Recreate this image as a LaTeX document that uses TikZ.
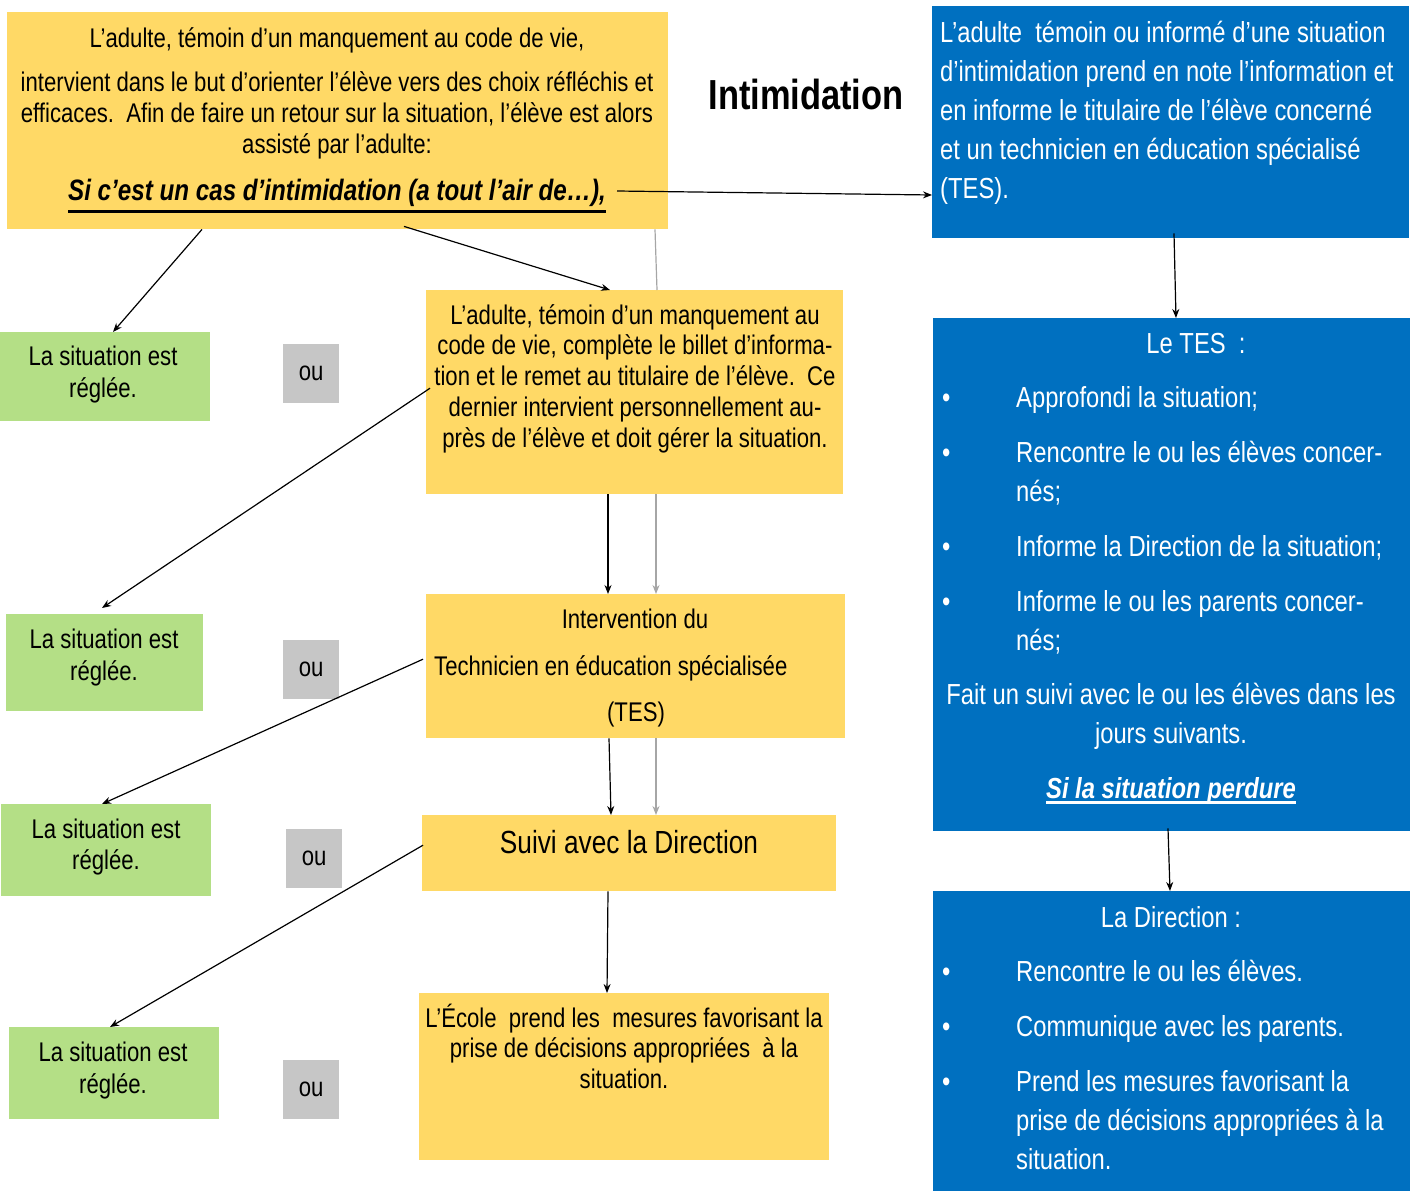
\documentclass[tikz,border=0pt]{standalone}
\usepackage{fontspec}
\setmainfont[FakeStretch=0.82]{Liberation Sans}
\usetikzlibrary{arrows.meta}
\definecolor{jaune}{HTML}{FFD966}
\definecolor{vert}{HTML}{B4DF86}
\definecolor{gris}{HTML}{C6C6C6}
\definecolor{bleu}{HTML}{0070C0}
\definecolor{trait}{HTML}{A6A6A6}
\newcommand{\souligne}[2][-5pt]{\leavevmode\setbox0=\hbox{#2}\rlap{\rule[#1]{\wd0}{2.6pt}}\box0}
\newcommand{\puce}{\makebox[74pt][l]{•}}

\tikzset{
  boite/.style 2 args={anchor=north west, inner sep=0pt, minimum width=#1pt, minimum height=#2pt},
  txtjaune/.style={inner sep=0pt, align=center, anchor=base, font=\fontsize{27}{31}\selectfont},
  txtbleu/.style={inner sep=0pt, align=left, anchor=base west, text=white, font=\fontsize{29}{39}\selectfont},
  fleche/.style={-{Stealth[length=9pt,width=7pt]}, line width=1.2pt},
  fleche gris/.style={-{Stealth[length=9pt,width=7pt]}, line width=1.2pt, draw=trait}
}

\begin{document}
\begin{tikzpicture}[x=1pt, y=-1pt]
  \useasboundingbox (0,0) rectangle (1411,1191);

  % colonne du milieu (ancre = ligne de base de la derniere ligne)
  \node[boite={661}{217}, fill=jaune] (adulte) at (7,12) {};
  \node[txtjaune] (adulte-txt) at (337,200) {L’adulte, témoin d’un manquement au code de vie,\\[13pt]
    intervient dans le but d’orienter l’élève vers des choix réfléchis et\\
    efficaces.\ \ Afin de faire un retour sur la situation, l’élève est alors\\
    assisté par l’adulte:\\[16pt]
    \souligne[-13pt]{\fontsize{29.5}{31}\selectfont\bfseries\itshape Si c’est un cas d’intimidation (a tout l’air de…),}};
  \node[font=\bfseries\fontsize{42}{48}\selectfont] (titre) at (806,94) {Intimidation};

  \node[boite={417}{204}, fill=jaune] (billet) at (426,290) {};
  \node[txtjaune, font=\fontsize{27}{30.75}\selectfont] (billet-txt) at (635,447) {L’adulte, témoin d’un manquement au\\
    code de vie, complète le billet d’informa-\\
    tion et le remet au titulaire de l’élève.\ \ Ce\\
    dernier intervient personnellement au-\\
    près de l’élève et doit gérer la situation.};

  \node[boite={419}{144}, fill=jaune] (tes) at (426,594) {};
  \node[txtjaune] (tes-l1) at (635,628) {Intervention du};
  \node[txtjaune, anchor=base west] (tes-l2) at (434,675) {Technicien en éducation spécialisée};
  \node[txtjaune] (tes-l3) at (636,721) {(TES)};

  \node[boite={414}{76}, fill=jaune] (suivi) at (422,815) {};
  \node[txtjaune, font=\fontsize{32}{36}\selectfont] (suivi-txt) at (629,853) {Suivi avec la Direction};

  \node[boite={410}{167}, fill=jaune] (ecole) at (419,993) {};
  \node[txtjaune, font=\fontsize{27}{30.5}\selectfont] (ecole-txt) at (624,1088) {L’École\ \ prend les\ \ mesures favorisant la\\
    prise de décisions appropriées\ \ à la\\
    situation.};

  % colonne de gauche
  \node[boite={210}{89}, fill=vert] (regle1) at (0,332) {};
  \node[txtjaune, font=\fontsize{27}{32}\selectfont] (regle1-txt) at (103,397) {La situation est\\ réglée.};
  \node[boite={197}{97}, fill=vert] (regle2) at (6,614) {};
  \node[txtjaune, font=\fontsize{27}{32}\selectfont] (regle2-txt) at (104,680) {La situation est\\ réglée.};
  \node[boite={210}{92}, fill=vert] (regle3) at (1,804) {};
  \node[txtjaune, font=\fontsize{27}{31}\selectfont] (regle3-txt) at (106,869) {La situation est\\ réglée.};
  \node[boite={210}{92}, fill=vert] (regle4) at (9,1027) {};
  \node[txtjaune, font=\fontsize{27}{32}\selectfont] (regle4-txt) at (113,1093) {La situation est\\ réglée.};

  \node[boite={56}{59}, fill=gris, font=\fontsize{27}{31}\selectfont] (ou1) at (283,344) {ou};
  \node[boite={56}{59}, fill=gris, font=\fontsize{27}{31}\selectfont] (ou2) at (283,640) {ou};
  \node[boite={56}{59}, fill=gris, font=\fontsize{27}{31}\selectfont] (ou3) at (286,829) {ou};
  \node[boite={56}{59}, fill=gris, font=\fontsize{27}{31}\selectfont] (ou4) at (283,1060) {ou};

  % colonne de droite
  \node[boite={477}{232}, fill=bleu] (informe) at (932,6) {};
  \node[txtbleu] (informe-txt) at (940,198.5) {L’adulte\ \ témoin ou informé d’une situation\\
    d’intimidation prend en note l’information et\\
    en informe le titulaire de l’élève concerné\\
    et un technicien en éducation spécialisé\\
    (TES).};

  \node[boite={477}{513}, fill=bleu] (letes) at (933,318) {};
  \node[txtbleu, anchor=base] (letes-titre) at (1196,353.5) {Le TES\ \ :};
  \node[txtbleu] (letes-liste) at (942,650.5) {\puce Approfondi la situation;\\[16pt]
    \puce Rencontre le ou les élèves concer-\\
    \hspace*{74pt}nés;\\[16pt]
    \puce Informe la Direction de la situation;\\[16pt]
    \puce Informe le ou les parents concer-\\
    \hspace*{74pt}nés;};
  \node[txtbleu, anchor=base, align=center] (letes-suivi) at (1171,798.5) {Fait un suivi avec le ou les élèves dans les\\
    jours suivants.\\[16pt]
    \souligne{\bfseries\itshape Si la situation perdure}};

  \node[boite={477}{300}, fill=bleu] (direction) at (933,891) {};
  \node[txtbleu, anchor=base] (direction-titre) at (1171,927.5) {La Direction :};
  \node[txtbleu] (direction-liste) at (942,1169.5) {\puce Rencontre le ou les élèves.\\[16pt]
    \puce Communique avec les parents.\\[16pt]
    \puce Prend les mesures favorisant la\\
    \hspace*{74pt}prise de décisions appropriées à la\\
    \hspace*{74pt}situation.};

  % fleches
  \draw[fleche] ([shift={(610,179)}]adulte.north west) -- ([shift={(0,189)}]informe.north west);
  \draw[fleche] ([shift={(195,0)}]adulte.south west) -- ([shift={(113,0)}]regle1.north west);
  \draw[fleche] ([shift={(397,-3)}]adulte.south west) -- ([shift={(184,0)}]billet.north west);
  \draw[line width=1.2pt, trait] ([shift={(648,0)}]adulte.south west) -- ([shift={(231,0)}]billet.north west);

  \draw[fleche] ([shift={(4,-4)}]billet.west) -- ([shift={(96,-6)}]regle2.north west);
  \draw[fleche] ([shift={(182,0)}]billet.south west) -- ([shift={(182,0)}]tes.north west);
  \draw[fleche gris] ([shift={(230,0)}]billet.south west) -- ([shift={(230,0)}]tes.north west);

  \draw[fleche] ([shift={(-3,-7)}]tes.west) -- ([shift={(101,0)}]regle3.north west);
  \draw[fleche] ([shift={(183,0)}]tes.south west) -- ([shift={(189,0)}]suivi.north west);
  \draw[fleche gris] ([shift={(230,0)}]tes.south west) -- ([shift={(234,0)}]suivi.north west);

  \draw[fleche] ([shift={(1,-8)}]suivi.west) -- ([shift={(101,0)}]regle4.north west);
  \draw[fleche] ([shift={(186,0)}]suivi.south west) -- ([shift={(188,0)}]ecole.north west);

  \draw[fleche] ([shift={(242,-5)}]informe.south west) -- ([shift={(243,0)}]letes.north west);
  \draw[fleche] ([shift={(235,-3)}]letes.south west) -- ([shift={(237,0)}]direction.north west);
\end{tikzpicture}
\end{document}
